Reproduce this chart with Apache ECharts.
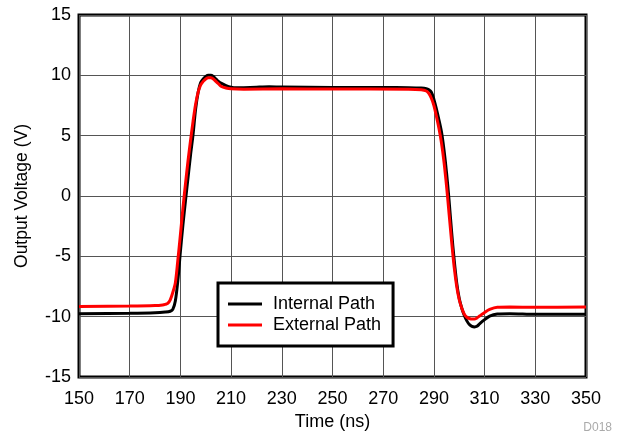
<!DOCTYPE html>
<html>
<head>
<meta charset="utf-8">
<script src="https://cdn.jsdelivr.net/npm/echarts@6/dist/echarts.min.js"></script>
<style>html,body{margin:0;padding:0;background:#fff;}#c{width:618px;height:440px;}</style>
</head>
<body>
<div id="c"></div>
<script>
var seriesNames = ['Internal Path', 'External Path'];
var internalT = [150,170,180,184,186,187,188,189,190,191,192,193,194,195,196,197,198,199,200,201,202,203,204,205,206,208,210,212,215,220,225,230,250,270,280,285,287,288,289,290,291,292,293,294,295,296,297,298,299,300,301,302,303,304,305,306,307,308,310,312,315,320,330,350];
var internalV = [-9.75,-9.72,-9.68,-9.62,-9.55,-9.4,-8.7,-7.0,-4.6,-2.4,-0.4,1.5,3.4,5.1,7.2,8.6,9.4,9.7,9.9,10.0,10.0,9.9,9.7,9.5,9.35,9.15,9.02,8.97,8.98,9.02,9.05,9.03,9.0,9.0,8.98,8.95,8.9,8.8,8.6,8.0,7.2,6.3,5.3,3.8,1.9,-0.4,-3.0,-5.3,-7.2,-8.5,-9.3,-9.9,-10.35,-10.65,-10.8,-10.85,-10.8,-10.6,-10.25,-9.95,-9.78,-9.75,-9.8,-9.8];
var externalT = [150,170,180,183,184,185,186,187,188,189,190,191,192,193,194,195,196,197,198,199,200,201,202,203,204,205,206,208,210,215,230,250,280,285,287,288,289,290,291,292,293,294,295,296,297,298,299,300,301,302,303,304,305,306,307,308,310,312,315,320,330,350];
var externalV = [-9.15,-9.12,-9.08,-9.03,-8.98,-8.9,-8.6,-8.0,-7.2,-5.3,-3.2,-1.0,1.0,2.9,4.6,6.2,7.6,8.6,9.2,9.5,9.7,9.8,9.8,9.7,9.5,9.3,9.1,8.95,8.88,8.85,8.88,8.87,8.85,8.8,8.7,8.5,8.1,7.5,6.6,5.6,4.4,2.8,0.8,-1.5,-3.8,-5.9,-7.5,-8.6,-9.3,-9.8,-10.05,-10.15,-10.2,-10.2,-10.1,-9.95,-9.65,-9.4,-9.22,-9.2,-9.22,-9.2];
var xTicks = [150,170,190,210,230,250,270,290,310,330,350];
var yTicks = [-15,-10,-5,0,5,10,15];

function pairs(t, v) { return t.map(function (x, i) { return [x, v[i]]; }); }

var font = 'Liberation Sans, Arial, sans-serif';
var chart = echarts.init(document.getElementById('c'), null, {renderer: 'canvas'});
chart.setOption({
  animation: false,
  backgroundColor: '#ffffff',
  grid: {left: 79, right: 32, top: 15, bottom: 63, show: true, borderColor: '#000', borderWidth: 3, backgroundColor: 'transparent'},
  xAxis: {
    type: 'value', min: xTicks[0], max: xTicks[xTicks.length - 1], interval: 20,
    name: 'Time (ns)', nameLocation: 'middle', nameGap: 35,
    nameTextStyle: {color: '#000', fontSize: 18, fontFamily: font},
    axisLine: {show: false}, axisTick: {show: false},
    axisLabel: {color: '#000', fontSize: 18, fontFamily: font, margin: 13},
    splitLine: {show: true, lineStyle: {color: '#555', width: 1}}
  },
  yAxis: {
    type: 'value', min: yTicks[0], max: yTicks[yTicks.length - 1], interval: 5,
    name: 'Output Voltage (V)', nameLocation: 'middle', nameGap: 48, nameRotate: 90,
    nameTextStyle: {color: '#000', fontSize: 17.5, fontFamily: font},
    axisLine: {show: false}, axisTick: {show: false},
    axisLabel: {color: '#000', fontSize: 18, fontFamily: font, margin: 8},
    splitLine: {show: true, lineStyle: {color: '#555', width: 1}}
  },
  legend: {
    orient: 'vertical', left: 218, top: 283,
    backgroundColor: '#fff', borderColor: '#000', borderWidth: 3,
    padding: [12, 12, 12, 10], itemGap: 3, itemWidth: 34, itemHeight: 3,
    textStyle: {color: '#000', fontSize: 18, fontFamily: font, padding: [0, 0, 0, 6]},
    icon: 'path://M0,0 L34,0 L34,3 L0,3 Z',
    data: seriesNames
  },
  graphic: [{type: 'text', right: 6, bottom: 6, style: {text: 'D018', fill: '#aaa', fontSize: 12, fontFamily: font}}],
  series: [
    {name: seriesNames[0], type: 'line', data: pairs(internalT, internalV), showSymbol: false, smooth: 0.3, lineStyle: {color: '#000', width: 3}, itemStyle: {color: '#000'}},
    {name: seriesNames[1], type: 'line', data: pairs(externalT, externalV), showSymbol: false, smooth: 0.3, lineStyle: {color: '#ff0000', width: 3}, itemStyle: {color: '#ff0000'}}
  ]
});
</script>
</body>
</html>
